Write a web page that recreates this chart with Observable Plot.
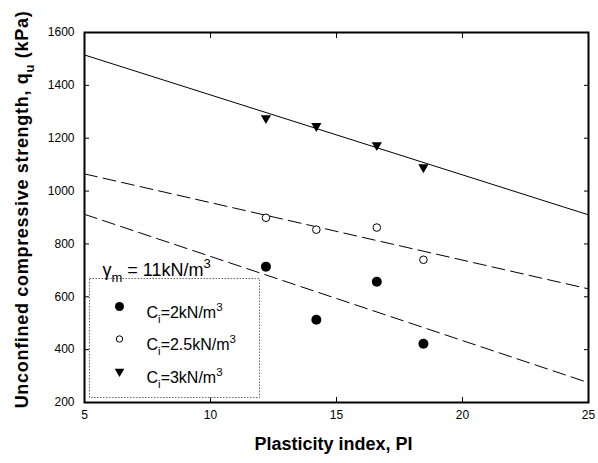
<!DOCTYPE html>
<html><head><meta charset="utf-8">
<script src="https://cdn.jsdelivr.net/npm/d3@7"></script>
<script src="https://cdn.jsdelivr.net/npm/@observablehq/plot@0.6"></script>
<style>
body{margin:0;background:#fff;}
#chart svg{font-family:"Liberation Sans",Arial,sans-serif;}
</style>
</head><body><div id="chart"></div>
<script>
// ---- data ----
const plasticityIndex = [12.2, 14.2, 16.6, 18.45];
const qu_Ci2  = [714, 513, 657, 422];
const qu_Ci25 = [899, 854, 862, 740];
const qu_Ci3  = [1276, 1246, 1174, 1090];
// fitted trend lines (end points read at PI = 5 and 25)
const fitPI    = [5, 25];
const fit_Ci2  = [912, 275];
const fit_Ci25 = [1065, 630];
const fit_Ci3  = [1515, 910];
const seriesNames = ["C_i=2kN/m^3", "C_i=2.5kN/m^3", "C_i=3kN/m^3"];
const gammaLabel = "γ_m = 11kN/m^3";
const xTicks = [5, 10, 15, 20, 25];
const yTicks = [200, 400, 600, 800, 1000, 1200, 1400, 1600];
const xTitle = "Plasticity index, PI";
const yTitle = "Unconfined compressive strength, q_u (kPa)";

const toRows = (xs, ys) => xs.map((x, i) => ({x, y: ys[i]}));
const pts2 = toRows(plasticityIndex, qu_Ci2);
const pts25 = toRows(plasticityIndex, qu_Ci25);
const pts3 = toRows(plasticityIndex, qu_Ci3);
const line2 = toRows(fitPI, fit_Ci2);
const line25 = toRows(fitPI, fit_Ci25);
const line3 = toRows(fitPI, fit_Ci3);

const symbolStyles = [
  {symbol: "circle", fill: "black", stroke: "none", lr: 4.5},
  {symbol: "circle", fill: "white", stroke: "black", lr: 3.2},
  {symbol: "triangle", fill: "black", stroke: "none", lr: 3.6, rotate: 180}
];

const legendMarks = seriesNames.flatMap((name, i) => {
  const s = symbolStyles[i];
  return [
    Plot.dot([name], {frameAnchor: "top-left", dx: 35, dy: 274 + 32.5 * i, symbol: s.symbol,
      fill: s.fill, stroke: s.stroke, r: s.lr, rotate: s.rotate || 0, strokeWidth: 1}),
    Plot.text([name], {frameAnchor: "top-left", dx: 62, dy: 274 + 32.5 * i, text: d => d,
      textAnchor: "start", fontSize: 16, fill: "black"})
  ];
});

const chart = Plot.plot({
  width: 598,
  height: 463,
  marginLeft: 84,
  marginRight: 10,
  marginTop: 32,
  marginBottom: 61,
  style: {background: "white", color: "black", fontSize: "12px"},
  x: {domain: [5, 25]},
  y: {domain: [200, 1600]},
  marks: [
    Plot.axisX(xTicks, {anchor: "bottom", tickSize: 0, tickPadding: 8, label: null, fontSize: 12, tickFormat: d => String(d)}),
    Plot.axisY(yTicks, {anchor: "left", tickSize: 0, tickPadding: 10, label: null, fontSize: 12, tickFormat: d => String(d)}),
    Plot.axisX(xTicks, {anchor: "bottom", tickSize: -5, tickFormat: () => "", label: null}),
    Plot.axisX(xTicks, {anchor: "top", tickSize: -5, tickFormat: () => "", label: null}),
    Plot.axisY(yTicks, {anchor: "left", tickSize: -5, tickFormat: () => "", label: null}),
    Plot.axisY(yTicks, {anchor: "right", tickSize: -5, tickFormat: () => "", label: null}),
    Plot.line(line3, {x: "x", y: "y", stroke: "black", strokeWidth: 1}),
    Plot.line(line25, {x: "x", y: "y", stroke: "black", strokeWidth: 1, strokeDasharray: "13,6"}),
    Plot.line(line2, {x: "x", y: "y", stroke: "black", strokeWidth: 1, strokeDasharray: "13,6"}),
    Plot.dot(pts2, {x: "x", y: "y", symbol: "circle", fill: "black", r: 5}),
    Plot.dot(pts25, {x: "x", y: "y", symbol: "circle", fill: "white", stroke: "black", strokeWidth: 1, r: 3.8}),
    Plot.dot(pts3, {x: "x", y: "y", symbol: "triangle", fill: "black", r: 3.8, rotate: 180}),
    Plot.frame({insetLeft: 5, insetTop: 246, insetRight: 329, insetBottom: 5, stroke: "#666",
      strokeWidth: 1, strokeDasharray: "1.5,1.5", fill: "white"}),
    ...legendMarks,
    Plot.text([gammaLabel], {frameAnchor: "top-left", dx: 18, dy: 231, text: d => d,
      textAnchor: "start", fontSize: 18, fill: "black"}),
    Plot.text([xTitle], {frameAnchor: "bottom", dx: -3, dy: 47, text: d => d, fontSize: 18,
      textAnchor: "middle", fontWeight: "bold", fill: "black"}),
    Plot.text([yTitle], {frameAnchor: "left", dx: -62, dy: -8, rotate: -90, text: d => d,
      textAnchor: "middle", fontSize: 18, fontWeight: "bold", fill: "black"}),
    Plot.frame({stroke: "black", strokeWidth: 2})
  ]
});
document.getElementById("chart").append(chart);

// render _x as subscript and ^x as superscript with real tspans
const svgNS = "http://www.w3.org/2000/svg";
chart.querySelectorAll("text").forEach(t => {
  const s = t.textContent;
  if (!/[_^]/.test(s)) return;
  const fs = parseFloat(getComputedStyle(t).fontSize) || 12;
  const parts = [];
  let buf = "";
  for (let i = 0; i < s.length; i++) {
    const c = s[i];
    if ((c === "_" || c === "^") && i + 1 < s.length) {
      if (buf) parts.push({t: buf, k: "n"}), buf = "";
      parts.push({t: s[i + 1], k: c === "_" ? "sub" : "sup"});
      i++;
    } else buf += c;
  }
  if (buf) parts.push({t: buf, k: "n"});
  while (t.firstChild) t.removeChild(t.firstChild);
  let shift = 0;
  parts.forEach(p => {
    const ts = document.createElementNS(svgNS, "tspan");
    const target = p.k === "sub" ? 0.3 * fs : p.k === "sup" ? -0.45 * fs : 0;
    ts.setAttribute("dy", (target - shift).toFixed(2));
    shift = target;
    if (p.k !== "n") ts.setAttribute("font-size", (0.72 * fs).toFixed(1));
    ts.textContent = p.t;
    t.appendChild(ts);
  });
  if (s === yTitle) t.style.letterSpacing = "0.7px";
});
</script>
</body></html>
